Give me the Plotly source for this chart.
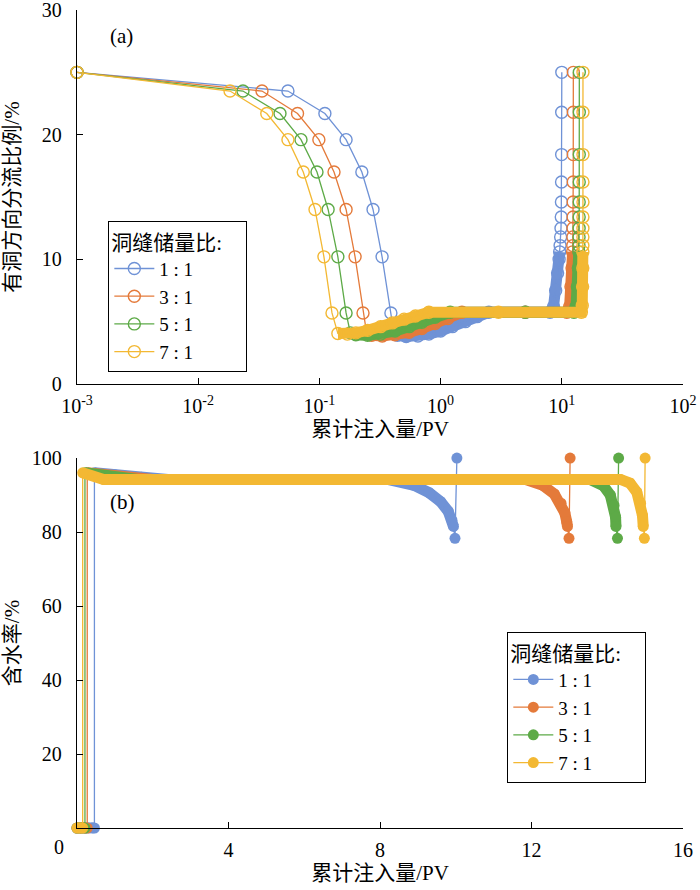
import plotly.graph_objects as go

FONT = "Liberation Serif, Noto Sans CJK SC, serif"

names = ["1 : 1", "3 : 1", "5 : 1", "7 : 1"]
colors = ["#6F92D6", "#E47A3A", "#5DAA47", "#F3B833"]
legend_title = "洞缝储量比:\u00a0\u00a0\u00a0\u00a0"

# ---------------- Panel (a): diversion ratio vs cumulative injection (log x) ----------------
a_drop_y = [25.0, 23.5, 21.7, 19.6, 17.0, 14.0, 10.2, 5.7]
a_rise_y = [11.1, 11.8, 12.5, 13.4, 14.6, 16.2, 18.4, 21.8, 25.0]

a1_drop_x = [0.001, 0.055, 0.111, 0.166, 0.224, 0.277, 0.329, 0.389]
a1_band_x = [0.41, 0.44, 0.52, 0.65, 0.8, 1.0, 1.25, 1.6, 2.0, 2.5, 5.0, 8.0, 8.55, 8.9, 9.23, 9.5, 9.6]
a1_band_y = [4.2, 3.9, 3.8, 3.85, 4.0, 4.25, 4.6, 5.0, 5.4, 5.75, 5.75, 5.75, 6.2, 7.5, 8.9, 10.0, 10.6]
a1_rise_x = [9.68, 9.78, 9.85, 9.9, 9.93, 9.95, 9.97, 9.98, 10.0]

a2_drop_x = [0.001, 0.0336, 0.066, 0.099, 0.132, 0.166, 0.197, 0.229]
a2_band_x = [0.245, 0.27, 0.33, 0.42, 0.55, 0.7, 0.9, 1.15, 1.5, 5.0, 11.0, 11.6, 11.9, 12.15, 12.28]
a2_band_y = [4.1, 3.9, 3.85, 3.95, 4.15, 4.45, 4.85, 5.25, 5.75, 5.75, 5.75, 6.2, 7.8, 9.3, 10.6]
a2_rise_x = [12.32, 12.35, 12.37, 12.39, 12.4, 12.42, 12.43, 12.44, 12.45]

a3_drop_x = [0.001, 0.0234, 0.0473, 0.0705, 0.0955, 0.118, 0.142, 0.166]
a3_band_x = [0.18, 0.2, 0.25, 0.32, 0.42, 0.55, 0.7, 0.9, 1.2, 5.0, 12.6, 13.1, 13.45, 13.7, 13.82]
a3_band_y = [4.1, 3.95, 3.9, 4.0, 4.25, 4.6, 4.95, 5.35, 5.75, 5.75, 5.75, 6.2, 7.8, 9.3, 10.6]
a3_rise_x = [13.86, 13.88, 13.9, 13.91, 13.92, 13.93, 13.94, 13.95, 13.95]

a4_drop_x = [0.001, 0.0183, 0.0368, 0.055, 0.0736, 0.092, 0.109, 0.127]
a4_band_x = [0.142, 0.17, 0.2, 0.25, 0.32, 0.4, 0.5, 0.62, 0.8, 3.0, 14.5, 14.75, 14.85, 14.9, 14.92]
a4_band_y = [4.05, 4.0, 4.1, 4.3, 4.6, 4.9, 5.2, 5.45, 5.75, 5.75, 5.75, 6.3, 7.8, 9.3, 10.6]
a4_rise_x = [14.93, 14.93, 14.94, 14.94, 14.95, 14.95, 14.95, 14.95, 14.95]

a_x_ticks = [0.001, 0.01, 0.1, 1, 10, 100]
a_x_ticktext = ["10<sup>-3</sup>", "10<sup>-2</sup>", "10<sup>-1</sup>",
                "10<sup>0</sup>", "10<sup>1</sup>", "10<sup>2</sup>"]
a_y_ticks = [0, 10, 20, 30]

# ---------------- Panel (b): water cut vs cumulative injection ----------------
b1_zero_x = [0, 0.1, 0.2, 0.3, 0.4, 0.46]
b1_band_x = [0.46, 1.0, 1.7, 2.4, 8.2, 8.9, 9.3, 9.6, 9.8, 9.9, 9.94]
b1_band_y = [96.0, 95.5, 94.8, 94.2, 94.2, 92.6, 90.6, 88.2, 85.6, 83.2, 81.5]
b1_end_x = [9.98, 10.03]

b2_zero_x = [0, 0.1, 0.2, 0.27]
b2_band_x = [0.27, 0.9, 2.0, 11.85, 12.3, 12.6, 12.78, 12.88, 12.93, 12.95]
b2_band_y = [96.0, 95.3, 94.2, 94.2, 92.6, 90.3, 87.8, 85.2, 82.8, 81.5]
b2_end_x = [12.99, 13.02]

b3_zero_x = [0, 0.1, 0.21]
b3_band_x = [0.21, 0.8, 1.6, 13.55, 13.9, 14.08, 14.18, 14.22, 14.23]
b3_band_y = [96.0, 95.2, 94.2, 94.2, 92.5, 90.0, 87.2, 84.0, 81.5]
b3_end_x = [14.27, 14.3]

b4_zero_x = [0, 0.08, 0.15]
b4_band_x = [0.15, 0.7, 14.35, 14.6, 14.78, 14.88, 14.93, 14.95]
b4_band_y = [96.0, 94.2, 94.2, 93.2, 90.8, 87.8, 84.5, 81.5]
b4_end_x = [14.98, 15.0]
b_end_y = [78.3, 100.0]

b_x_ticks = [0, 4, 8, 12, 16]
b_x_ticktext = ["", "4", "8", "12", "16"]
b_y_ticks = [20, 40, 60, 80, 100]

fig = go.Figure()

a_sets = [
    (a1_drop_x, a1_band_x, a1_band_y, a1_rise_x),
    (a2_drop_x, a2_band_x, a2_band_y, a2_rise_x),
    (a3_drop_x, a3_band_x, a3_band_y, a3_rise_x),
    (a4_drop_x, a4_band_x, a4_band_y, a4_rise_x),
]
for (dx, bx, by, rx), name, col in zip(a_sets, names, colors):
    fig.add_trace(go.Scatter(
        x=bx, y=by, mode="lines", xaxis="x", yaxis="y",
        line=dict(color=col, width=11), showlegend=False,
        cliponaxis=False, hoverinfo="skip"))
    fig.add_trace(go.Scatter(
        x=dx + bx + rx, y=a_drop_y + by + a_rise_y, mode="lines+markers",
        xaxis="x", yaxis="y", name=name, legend="legend",
        line=dict(color=col, width=1.3),
        marker=dict(symbol="circle-open", size=12, color=col, line=dict(width=1.4, color=col)),
        cliponaxis=False))

b_sets = [
    (b1_zero_x, b1_band_x, b1_band_y, b1_end_x),
    (b2_zero_x, b2_band_x, b2_band_y, b2_end_x),
    (b3_zero_x, b3_band_x, b3_band_y, b3_end_x),
    (b4_zero_x, b4_band_x, b4_band_y, b4_end_x),
]
for (zx, bx, by, ex), name, col in zip(b_sets, names, colors):
    zy = [0] * len(zx)
    fig.add_trace(go.Scatter(
        x=zx, y=zy, mode="lines", xaxis="x2", yaxis="y2",
        line=dict(color=col, width=11), showlegend=False,
        cliponaxis=False, hoverinfo="skip"))
    fig.add_trace(go.Scatter(
        x=bx, y=by, mode="lines", xaxis="x2", yaxis="y2",
        line=dict(color=col, width=11), showlegend=False,
        cliponaxis=False, hoverinfo="skip"))
    fig.add_trace(go.Scatter(
        x=zx + bx + ex, y=zy + by + b_end_y, mode="lines+markers",
        xaxis="x2", yaxis="y2", name=name, legend="legend2",
        line=dict(color=col, width=1.3),
        marker=dict(symbol="circle", size=11, color=col),
        cliponaxis=False))

axis_common = dict(
    ticks="inside", ticklen=6, tickwidth=1.3, tickcolor="black",
    showline=True, linecolor="black", linewidth=1.3,
    showgrid=False, zeroline=False, layer="above traces", automargin=False,
    ticklabeloverflow="allow",
    tickfont=dict(family=FONT, size=20, color="black"),
)

legend_common = dict(
    bgcolor="white", bordercolor="black", borderwidth=1.3,
    font=dict(family=FONT, size=19, color="black"),
    title=dict(text=legend_title, font=dict(family=FONT, size=21, color="black")),
    xanchor="left", yanchor="top", itemwidth=40, tracegroupgap=0,
)

fig.update_layout(
    width=700, height=890,
    margin=dict(l=77, r=17, t=10, b=62, autoexpand=False),
    paper_bgcolor="white", plot_bgcolor="white",
    font=dict(family=FONT, size=20, color="black"),
    xaxis=dict(type="log", range=[-3, 2], domain=[0, 1], anchor="y",
               tickvals=a_x_ticks, ticktext=a_x_ticktext, ticklabelstandoff=4,
               title=dict(text="累计注入量/PV", standoff=0,
                          font=dict(family=FONT, size=21)),
               **axis_common),
    yaxis=dict(range=[0, 30], domain=[0.5428, 1], anchor="x",
               tickvals=a_y_ticks, ticklabelstandoff=10,
               title=dict(text="有洞方向分流比例/%", standoff=18,
                          font=dict(family=FONT, size=21)),
               **axis_common),
    xaxis2=dict(range=[0, 16], domain=[0, 1], anchor="y2",
                tickvals=b_x_ticks, ticktext=b_x_ticktext, ticklabelstandoff=4,
                title=dict(text="累计注入量/PV", standoff=0,
                           font=dict(family=FONT, size=21)),
                **axis_common),
    yaxis2=dict(range=[0, 100], domain=[0, 0.4523], anchor="x2",
                tickvals=b_y_ticks, ticklabelstandoff=10,
                title=dict(text="含水率/%", standoff=8,
                           font=dict(family=FONT, size=21)),
                **axis_common),
    legend=dict(x=0.0512, y=0.742, **legend_common),
    legend2=dict(x=0.7096, y=0.2396, **legend_common),
    annotations=[
        dict(text="(a)", xref="paper", yref="paper", x=0.0512, y=0.968,
             xanchor="left", yanchor="middle", showarrow=False,
             font=dict(family=FONT, size=21, color="black")),
        dict(text="(b)", xref="paper", yref="paper", x=0.0512, y=0.3985,
             xanchor="left", yanchor="middle", showarrow=False,
             font=dict(family=FONT, size=21, color="black")),
        dict(text="0", xref="paper", yref="paper", x=-0.0297, y=-0.0232,
             xanchor="center", yanchor="middle", showarrow=False,
             font=dict(family=FONT, size=20, color="black")),
    ],
)

fig.write_html("out.html",
               config={"displayModeBar": False},
               post_script="document.body.style.margin='0';document.body.style.overflow='hidden';")
